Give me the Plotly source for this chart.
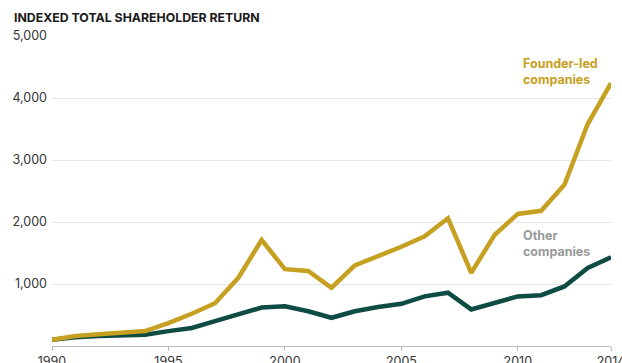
import plotly.graph_objects as go

years = list(range(1990, 2015))
founder_led = [100, 160, 190, 210, 240, 370, 520, 690, 1100, 1710, 1240, 1210, 940,
               1300, 1450, 1600, 1770, 2060, 1180, 1790, 2130, 2180, 2600, 3580, 4240]
other = [100, 140, 160, 175, 180, 240, 290, 400, 510, 620, 640, 560, 455,
         560, 630, 680, 800, 860, 590, 700, 800, 820, 960, 1260, 1430]

y_ticks = [1000, 2000, 3000, 4000, 5000]
x_ticks = [1990, 1995, 2000, 2005, 2010, 2014]

GOLD = "#C6A020"
GREEN = "#0E4B43"
FONT = "Inter, Roboto, sans-serif"

fig = go.Figure()
fig.add_trace(go.Scatter(x=years, y=other, mode="lines",
                         line=dict(color=GREEN, width=4.5), hoverinfo="skip"))
fig.add_trace(go.Scatter(x=years, y=founder_led, mode="lines",
                         line=dict(color=GOLD, width=4.5), hoverinfo="skip"))

fig.update_layout(
    width=622, height=363,
    margin=dict(l=52, r=11, t=36, b=17),
    paper_bgcolor="white", plot_bgcolor="white",
    showlegend=False,
    font=dict(family=FONT, size=12, color="#333"),
    xaxis=dict(range=[1990, 2014], tickvals=x_ticks, ticktext=[str(v) for v in x_ticks],
               showgrid=False, zeroline=False, showline=True, linecolor="#bbb",
               ticks="outside", ticklen=4, tickcolor="#bbb", automargin=False,
               ticklabeloverflow="allow",
               tickfont=dict(size=12.5, color="#333")),
    yaxis=dict(range=[0, 5000], tickvals=y_ticks,
               ticktext=[f"{v:,}" for v in y_ticks],
               showgrid=True, gridcolor="#e6e6e6", gridwidth=1, zeroline=False,
               ticks="", ticklabelstandoff=4, automargin=False,
               tickfont=dict(size=12.5, color="#333")),
    annotations=[
        dict(text="<b>INDEXED TOTAL SHAREHOLDER RETURN</b>", xref="paper", yref="paper",
             x=-40 / 559, y=1, yshift=19, xanchor="left", yanchor="middle",
             showarrow=False, font=dict(size=12.3, color="#1a1a1a", family=FONT)),
        dict(text="<b>Founder-led<br>companies</b>", xref="x", yref="y",
             x=2010.15, y=4430, xanchor="left", yanchor="middle", align="left",
             showarrow=False, font=dict(size=12.5, color=GOLD, family=FONT)),
        dict(text="<b>Other<br>companies</b>", xref="x", yref="y",
             x=2010.15, y=1650, xanchor="left", yanchor="middle", align="left",
             showarrow=False, font=dict(size=12.5, color="#999", family=FONT)),
    ],
)

fig.write_html("out.html")
